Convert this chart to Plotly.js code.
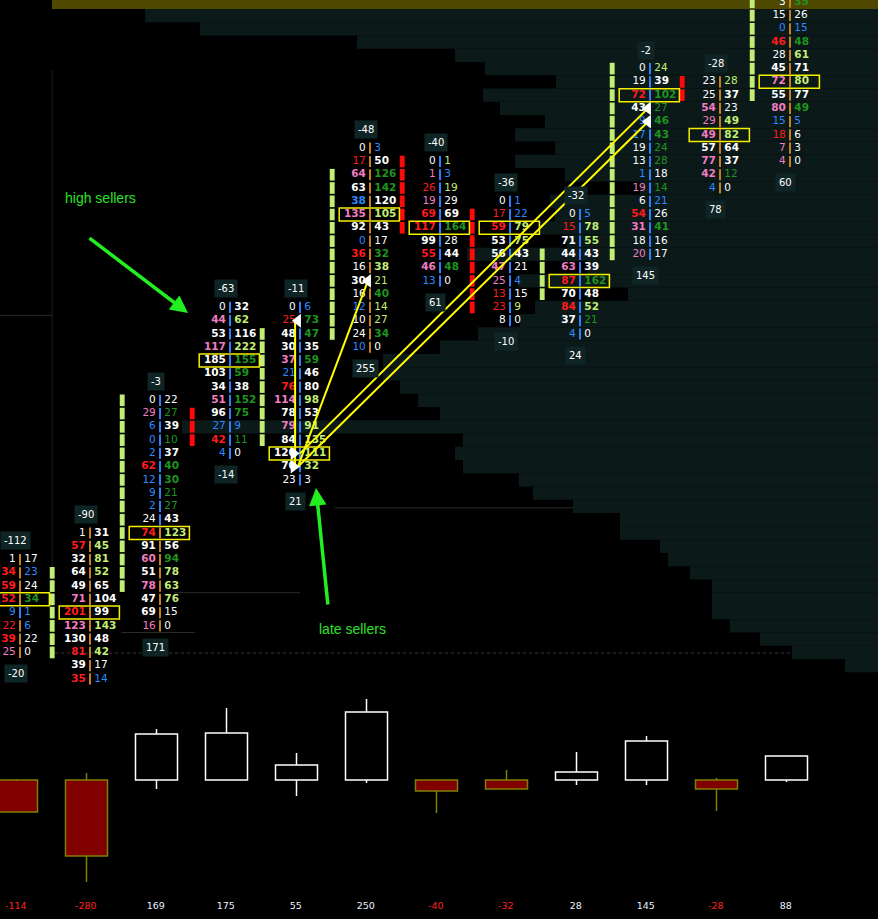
<!DOCTYPE html>
<html><head><meta charset="utf-8">
<script src="https://cdn.plot.ly/plotly-3.0.1.min.js"></script>
<style>html,body{margin:0;padding:0;background:#000;}#chart{width:878px;height:919px;}</style>
</head><body><div id="chart"></div>
<script>
// ---------- footprint data (12 bars, price rows as level index) ----------
const topLevel = [9, 11, 21, 28, 28, 40, 39, 36, 35, 46, 45, 51];
const pocLevel = [6, 5, 11, 24, 17, 35, 34, 34, 30, 44, 41, 45];
const bidVol = [
  [1,34,59,52,9,22,39,25],
  [1,57,32,64,49,71,201,123,130,81,39,35],
  [0,29,6,0,2,62,12,9,2,24,74,91,60,51,78,47,69,16],
  [0,44,53,117,185,103,34,51,96,27,42,4],
  [0,25,48,30,37,21,76,114,78,79,84,120,70,23],
  [0,17,64,63,38,135,92,0,36,16,30,16,12,10,24,10],
  [0,1,26,19,69,117,99,55,46,13],
  [0,17,59,53,56,47,25,13,23,8],
  [0,15,71,44,63,87,70,84,37,4],
  [0,19,72,43,9,17,19,13,1,19,6,54,31,18,20],
  [23,25,54,29,49,57,77,42,4],
  [3,15,0,46,28,45,72,55,80,15,18,7,4]
];
const askVol = [
  [17,23,24,34,1,6,22,0],
  [31,45,81,52,65,104,99,143,48,42,17,14],
  [22,27,39,10,37,40,30,21,27,43,123,56,94,78,63,76,15,0],
  [32,62,116,222,155,59,38,152,75,9,11,0],
  [6,73,47,35,59,46,80,98,53,91,135,111,32,3],
  [3,50,126,142,120,105,43,17,32,38,21,40,14,27,34,0],
  [1,3,19,29,69,164,28,44,48,0],
  [1,22,79,75,43,21,4,15,9,0],
  [5,78,55,43,39,162,48,52,21,0],
  [24,39,102,27,46,43,24,28,18,14,21,26,41,16,17],
  [28,37,23,49,82,64,37,12,0],
  [35,26,15,48,61,71,80,77,49,5,6,3,0]
];
const bidTone = ["WRRRBRRP","WRWWWPRPWRWR","WPBBBRBBBWRWPWPWWP","WPWPWWWPWBRB",
  "WRWWPBRPWPWWWW","WRPWBPWBRWWWBWWB","WPRPRRWRPB","WRRWWPPRRW","WRWWPRWRWB",
  "WWRWBBWWBPWRPWP","WWPPPWPPB","WWBRWWPWPBRPP"];
const askTone = ["WBWGBBWW","WLLLWWWLWLWB","WGWGWGGGGWLWGLLLWW","WLWLGGWGGBGW",
  "BGGWGWWLWLLLLW","BWGGWLWWGLLGLLGW","LBLWWGWWGW","BBLLWWBWLW","BLLWWGWLGW",
  "LWGGGGGGWGBWGWW","LWWLLWWGW","GWBGLWLWGBWWW"];
const dividerTone = ["OOOOBOOO","OOOOOOOOOOOO","BBBBBBBBBBOOOOOOOO","BBBBBBBBBBBB",
  "BBBBBBBBBBBBBB","OOOOOOOOOOOOOOOO","BBBBBBBBBB","BBBBBBBBBB","BBBBBBBBBB",
  "BBBBBBBBBBBBBBB","OOOOOOOOO","OOOOOOOOOOOOO"];
const deltaTop = [-112, -90, -3, -63, -11, -48, -40, -36, -32, -2, -28, null];
const deltaBottom = [-20, null, 171, -14, 21, 255, 61, -10, 24, 145, 78, 60];

// side markers (imbalance stacks)
const markCol = [1, 2, 3, 4, 5, 6, 7, 8, 9, 10, 11];
const markTop = [8, 21, 20, 26, 38, 39, 35, 32, 46, 45, 51];
const markBottom = [2, 7, 18, 18, 26, 34, 28, 29, 32, 44, 44];
const markTone = ["L","L","R","L","L","R","R","L","L","R","L"];

// session volume profile (levels 51 .. 1)
const profileLevels = [51,50,49,48,47,46,45,44,43,42,41,40,39,38,37,36,35,34,33,32,31,30,29,28,27,26,25,24,23,22,21,20,19,18,17,16,15,14,13,12,11,10,9,8,7,6,5,4,3,2,1];
const profileVol = [826,733,678,521,423,393,322,395,378,333,363,323,363,313,238,328,323,338,311,411,290,360,250,343,358,400,438,495,495,478,460,438,696,415,423,415,359,345,305,258,258,218,210,188,166,166,166,148,118,86,33];

// candles
const candleOpen  = [0, 0, 0, 0, 0, 0, 0, 0, 0, 0, 0, 0];
const candleHigh  = [0.5, 3.5, 25.5, 36, 13.5, 40.5, 0, 5, 14, 22, 1, 12];
const candleLow   = [-16, -51, -4.5, 0, -8, -1.5, -16.5, -4.5, -2.5, -2.5, -15.5, -1];
const candleClose = [-16, -38, 23, 23.5, 7.5, 34, -5.5, -4.5, 4, 19.5, -4.5, 12];
const candleDelta = [-114, -280, 169, 175, 55, 250, -40, -32, 28, 145, -28, 88];

// trade-path arrows: [fromCol, fromLevel, toCol, toLevel]
const pathFromCol = [4, 4, 4, 4];
const pathFromLev = [16, 16, 17, 16];
const pathToCol   = [4, 5, 9, 9];
const pathToLev   = [27, 30, 43, 42];

// ---------- styling ----------
const TONE = {W:'#ffffff', R:'#ff1c1c', P:'#f27dc2', B:'#2d88ff', G:'#1f951f', L:'#c3ee76'};
const DIV = {O:'#c8801e', B:'#2f80ff'};
const FONT = 'DejaVu Sans';

function fmt(v){ return v >= 30 ? '<b>' + v + '</b>' : String(v); }

const bx=[],by=[],bt=[],bc=[],ax=[],ay=[],at=[],ac=[],dx=[],dy=[],dc=[];
for (let c=0;c<12;c++){
  for (let r=0;r<bidVol[c].length;r++){
    const lev = topLevel[c]-r;
    bx.push(c-0.06); by.push(lev); bt.push(fmt(bidVol[c][r])); bc.push(TONE[bidTone[c][r]]);
    ax.push(c+0.062); ay.push(lev); at.push(fmt(askVol[c][r])); ac.push(TONE[askTone[c][r]]);
    dx.push(c); dy.push(lev); dc.push(DIV[dividerTone[c][r]]);
  }
}

const traces = [];
// profile background (main subplot, drawn first)
traces.push({type:'bar', orientation:'h', xaxis:'x', yaxis:'y', y:profileLevels, x:profileVol,
  base:0, width:1, marker:{color:profileLevels.map((l,i)=> i===0 ? '#4e4800' : '#0b1919'), line:{width:0}},
  hoverinfo:'skip'});

// imbalance marker bars
const mx=[],mb=[],mh=[],mc=[];
for (let k=0;k<markCol.length;k++){
  for (let l=markTop[k]; l>=markBottom[k]; l--){
    mx.push(markCol[k]-0.54); mb.push(l-0.44); mh.push(0.88); mc.push(markTone[k]==='R' ? '#ff0a0a' : '#c3ee76');
  }
}
traces.push({type:'bar', xaxis:'x2', yaxis:'y', x:mx, y:mh, base:mb, width:0.07,
  marker:{color:mc, line:{width:0}}, hoverinfo:'skip'});

// dividers
traces.push({type:'scatter', mode:'markers', xaxis:'x2', yaxis:'y', x:dx, y:dy,
  marker:{symbol:'line-ns', size:8, line:{width:2, color:dc}}, hoverinfo:'skip'});
// bid / ask text
traces.push({type:'scatter', mode:'text', xaxis:'x2', yaxis:'y', x:bx, y:by, text:bt,
  textposition:'middle left', textfont:{family:FONT, size:10.5, color:bc}, hoverinfo:'skip'});
traces.push({type:'scatter', mode:'text', xaxis:'x2', yaxis:'y', x:ax, y:ay, text:at,
  textposition:'middle right', textfont:{family:FONT, size:10.5, color:ac}, hoverinfo:'skip'});

// yellow trade path lines
for (let k=0;k<pathFromCol.length;k++){
  const vertical = pathFromCol[k]===pathToCol[k];
  const off = vertical ? -0.07 : -0.03;
  traces.push({type:'scatter', mode:'lines', xaxis:'x2', yaxis:'y',
    x:[pathFromCol[k]+(k===2?0:off), pathToCol[k]+off], y:[pathFromLev[k], pathToLev[k]],
    line:{color:'#ffff00', width:2}, hoverinfo:'skip'});
}
// arrow heads
traces.push({type:'scatter', mode:'markers', xaxis:'x2', yaxis:'y',
  x:pathToCol.map(c=>c-0.03), y:pathToLev,
  marker:{symbol:'triangle-left', size:12, color:'#ffffff'}, hoverinfo:'skip'});
traces.push({type:'scatter', mode:'markers', xaxis:'x2', yaxis:'y',
  x:[4-0.09, 4-0.09], y:[17, 16],
  marker:{symbol:'triangle-right', size:12, color:'#ffffff'}, hoverinfo:'skip'});

// candles: wicks (only outside the body)
const wbx=[],wby=[],wrx=[],wry=[];
for (let i=0;i<12;i++){
  const up = candleClose[i] >= candleOpen[i];
  const lo = Math.min(candleOpen[i], candleClose[i]), hi = Math.max(candleOpen[i], candleClose[i]);
  const X = up?wbx:wrx, Y = up?wby:wry;
  if (candleLow[i] < lo) { X.push(i-0.05,i-0.05,null); Y.push(candleLow[i],lo,null); }
  if (candleHigh[i] > hi) { X.push(i-0.05,i-0.05,null); Y.push(hi,candleHigh[i],null); }
}
traces.push({type:'scatter', mode:'lines', xaxis:'x2', yaxis:'y2', x:wbx, y:wby, line:{color:'#ffffff', width:1.5}, hoverinfo:'skip'});
traces.push({type:'scatter', mode:'lines', xaxis:'x2', yaxis:'y2', x:wrx, y:wry, line:{color:'#808000', width:1.5}, hoverinfo:'skip'});
// candle bodies
traces.push({type:'bar', xaxis:'x2', yaxis:'y2', x:candleOpen.map((o,i)=>i-0.05),
  base:candleOpen.map((o,i)=>Math.min(o,candleClose[i])),
  y:candleOpen.map((o,i)=>Math.abs(candleClose[i]-o)), width:0.6,
  marker:{color:candleOpen.map((o,i)=>candleClose[i]>=o ? '#000000' : '#800000'),
    line:{width:1.5, color:candleOpen.map((o,i)=>candleClose[i]>=o ? '#ffffff' : '#808000')}},
  hoverinfo:'skip'});
// candle delta labels
traces.push({type:'scatter', mode:'text', xaxis:'x2', yaxis:'y2',
  x:candleDelta.map((d,i)=>i-0.06), y:candleDelta.map(()=>-63.5), text:candleDelta.map(String),
  textposition:'middle center',
  textfont:{family:FONT, size:9.5, color:candleDelta.map(d=> d<0 ? '#ff2020' : '#eaf2ff')}, hoverinfo:'skip'});

// annotations
const annotations = [];
for (let c=0;c<12;c++){
  const n = bidVol[c].length;
  if (deltaTop[c]!==null) annotations.push({xref:'x2', yref:'y', x:c-0.06, y:topLevel[c]+1.4,
    text:String(deltaTop[c]), showarrow:false, font:{family:FONT, size:10, color:'#ffffff'},
    bgcolor:'#0f2424', borderpad:3});
  if (deltaBottom[c]!==null) annotations.push({xref:'x2', yref:'y', x:c-0.06, y:topLevel[c]-n+1-1.6,
    text:String(deltaBottom[c]), showarrow:false, font:{family:FONT, size:10, color:'#ffffff'},
    bgcolor:'#0f2424', borderpad:3});
}
annotations.push({xref:'x2', yref:'y', x:1.157, y:36.25, text:'high sellers', showarrow:false,
  font:{family:'Liberation Sans', size:14, color:'#2ee02a'}});
annotations.push({xref:'x2', yref:'y', x:4.757, y:3.77, text:'late sellers', showarrow:false,
  font:{family:'Liberation Sans', size:14, color:'#2ee02a'}});
annotations.push({xref:'x2', yref:'y', axref:'x2', ayref:'y', x:2.4, y:27.58, ax:0.971, ay:33.31,
  text:'', showarrow:true, arrowhead:2, arrowsize:1, arrowwidth:3.5, arrowcolor:'#22ee22', standoff:0});
annotations.push({xref:'x2', yref:'y', axref:'x2', ayref:'y', x:4.229, y:14.39, ax:4.4, ay:5.5,
  text:'', showarrow:true, arrowhead:2, arrowsize:1, arrowwidth:3.5, arrowcolor:'#22ee22', standoff:0});

// POC boxes and faint reference lines
const shapes = [];
for (let c=0;c<12;c++){
  shapes.push({type:'rect', xref:'x2', yref:'y', x0:c-0.44, x1:c+0.42, y0:pocLevel[c]-0.49, y1:pocLevel[c]+0.49,
    line:{color:'#f5f000', width:1.5}, fillcolor:'rgba(0,0,0,0)', layer:'above'});
}
shapes.push({type:'line', xref:'x2', yref:'y', x0:0.5, x1:12.3, y0:1.95, y1:1.95, line:{color:'#3a3a3a', width:1, dash:'dot'}, layer:'below'});
shapes.push({type:'line', xref:'x2', yref:'y', x0:2.2, x1:4.0, y0:6.5, y1:6.5, line:{color:'#2a2a2a', width:1}, layer:'below'});
shapes.push({type:'line', xref:'x2', yref:'y', x0:1.45, x1:2.5, y0:3.5, y1:3.5, line:{color:'#2a2a2a', width:1}, layer:'below'});
shapes.push({type:'line', xref:'x2', yref:'y', x0:4.5, x1:7.9, y0:12.9, y1:12.9, line:{color:'#2a2a2a', width:1}, layer:'below'});
shapes.push({type:'line', xref:'x2', yref:'y', x0:-0.3, x1:0.46, y0:27.4, y1:27.4, line:{color:'#2a2a2a', width:1}, layer:'below'});
shapes.push({type:'line', xref:'x2', yref:'y', x0:0.46, x1:0.46, y0:1.5, y1:45.9, line:{color:'#1e1e1e', width:1}, layer:'below'});

const hidden = {visible:false, showgrid:false, zeroline:false, fixedrange:true};
const layout = {
  width:878, height:919, margin:{l:0,r:0,t:0,b:0,pad:0},
  paper_bgcolor:'#000000', plot_bgcolor:'#000000', showlegend:false, hovermode:false,
  barmode:'overlay',
  xaxis: Object.assign({range:[878,0]}, hidden),
  xaxis2: Object.assign({range:[-0.2857,12.2571], overlaying:'x'}, hidden),
  yaxis: Object.assign({range:[-18.09,51.17]}, hidden),
  yaxis2: Object.assign({range:[-69.5,390], overlaying:'y'}, hidden),
  annotations, shapes
};
Plotly.newPlot('chart', traces, layout, {staticPlot:true, displayModeBar:false});
</script></body></html>
